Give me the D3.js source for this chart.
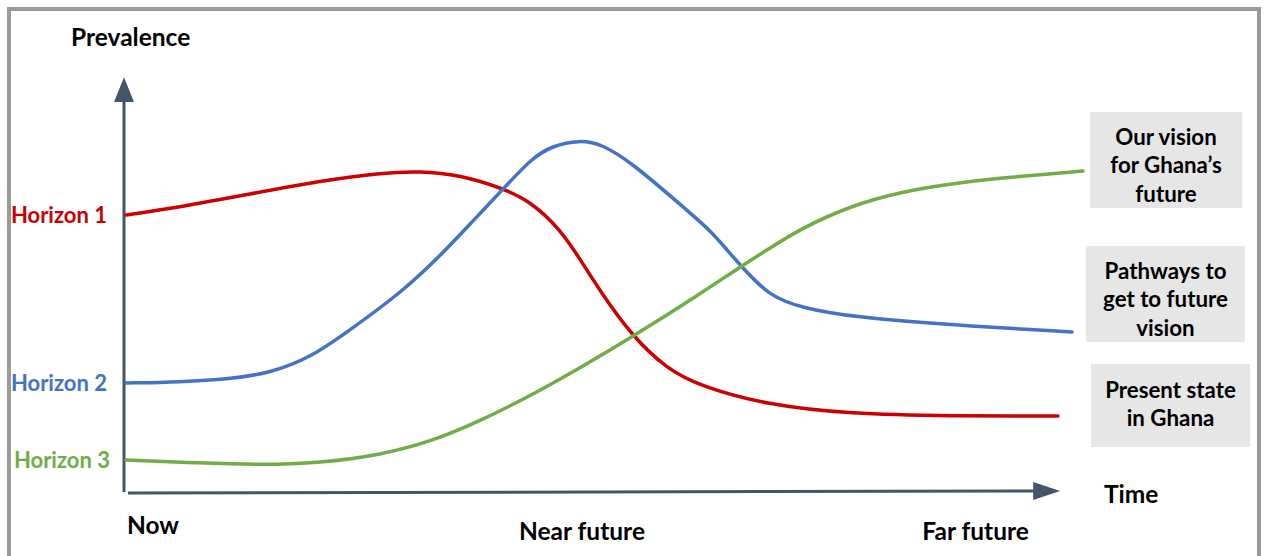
<!DOCTYPE html>
<html>
<head>
<meta charset="utf-8">
<script src="https://cdn.jsdelivr.net/npm/d3@7"></script>
<style>
  html, body { margin: 0; padding: 0; background: #fff; }
  svg { display: block; }
  text { font-family: Lato, "Open Sans", sans-serif; font-weight: 700; }
</style>
</head>
<body>
<svg id="chart" width="1265" height="556"></svg>
<script>
// Time runs 0 (now) to 100 (far future); prevalence is on a 0-100 scale.
const horizon1 = [
  [0, 69.25], [5.63, 71.25], [12.92, 74.5], [20.21, 77.75], [26.46, 79.75],
  [30.63, 80.25], [34.79, 79.25], [39.17, 76], [42.08, 72.75], [45.21, 65.75],
  [47.29, 58.25], [49.38, 50.25], [52.71, 39], [56.35, 30.75], [59.79, 26.5],
  [66.77, 21.75], [75.42, 19.5], [85.83, 19], [97.08, 19]
];
const horizon2 = [
  [0, 27.25], [5.63, 27.5], [10.83, 28.25], [15, 29.75], [19.17, 33.5],
  [23.33, 40.5], [28.75, 50], [32.92, 59.5], [36.04, 67.5], [39.38, 76],
  [42.29, 83.5], [44.38, 86.5], [47.19, 88], [49.58, 87], [52.71, 82.25],
  [57.92, 71.5], [61.04, 65], [62.6, 60.5], [64.17, 56.25], [66.98, 49],
  [70.42, 46], [75.63, 43.75], [86.04, 41.75], [98.54, 40]
];
const horizon3 = [
  [0, 8], [7.71, 7.25], [13.96, 6.75], [20.21, 7.25], [26.46, 9.25],
  [31.67, 12.5], [36.88, 17.75], [42.08, 24], [47.29, 31], [52.71, 38.75],
  [59.79, 49.5], [63.96, 56.25], [66.77, 60.5], [70.21, 65.75], [75.42, 71.5],
  [80.63, 75], [85.83, 77], [91.04, 78.5], [99.69, 80.25]
];
const seriesNames = ["Horizon 1", "Horizon 2", "Horizon 3"];
const seriesColors = ["#cc0000", "#4472c4", "#70ad47"];
const timeTicks = [
  { label: "Now", t: 0 },
  { label: "Near future", t: 47.5 },
  { label: "Far future", t: 88.5 }
];
const boxLabels = [
  ["Our vision", "for Ghana\u2019s", "future"],
  ["Pathways to", "get to future", "vision"],
  ["Present state", "in Ghana"]
];

const svg = d3.select("#chart");
const x = d3.scaleLinear().domain([0, 100]).range([126, 1086]);
const y = d3.scaleLinear().domain([0, 100]).range([492, 92]);
const axisColor = "#44546a";

// outer frame
svg.append("rect")
  .attr("x", 9).attr("y", 9).attr("width", 1250).attr("height", 600)
  .attr("fill", "none").attr("stroke", "#9a9a9a").attr("stroke-width", 4);

// axes with arrow heads
const ax0 = x(0) - 2;
svg.append("line")
  .attr("x1", ax0).attr("y1", y(0)).attr("x2", ax0).attr("y2", y(97.5))
  .attr("stroke", axisColor).attr("stroke-width", 3);
svg.append("path")
  .attr("d", `M${ax0},${y(103.7)} L${ax0 - 10},${y(97.5)} L${ax0 + 10},${y(97.5)} Z`)
  .attr("fill", axisColor);
svg.append("line")
  .attr("x1", x(0.2)).attr("y1", y(-0.25)).attr("x2", x(94.8)).attr("y2", y(0.25))
  .attr("stroke", axisColor).attr("stroke-width", 3);
svg.append("path")
  .attr("d", `M${x(97.3)},${y(0.25)} L${x(94.5)},${y(0.25) - 9} L${x(94.5)},${y(0.25) + 9} Z`)
  .attr("fill", axisColor);

// series curves
const line = d3.line()
  .x(d => x(d[0])).y(d => y(d[1]))
  .curve(d3.curveBasis);
[horizon1, horizon2, horizon3].forEach((s, i) => {
  svg.append("path")
    .datum(s)
    .attr("d", line)
    .attr("fill", "none")
    .attr("stroke", seriesColors[i])
    .attr("stroke-width", 3.5)
    .attr("stroke-linecap", "round");
});

// axis titles
svg.append("text").attr("x", 71).attr("y", 46)
  .attr("font-size", 24.5).attr("fill", "#000").text("Prevalence");
svg.append("text").attr("x", 1104).attr("y", 503)
  .attr("font-size", 24.5).attr("fill", "#000").text("Time");

// horizon labels at each series' starting level
[horizon1, horizon2, horizon3].forEach((s, i) => {
  svg.append("text")
    .attr("x", i === 2 ? 110 : 107).attr("y", y(s[0][1]) + 8)
    .attr("text-anchor", "end")
    .attr("font-size", 22).attr("fill", seriesColors[i])
    .text(seriesNames[i]);
});

// time labels
svg.selectAll("text.tick")
  .data(timeTicks).enter().append("text")
  .attr("class", "tick")
  .attr("x", d => d.t === 0 ? x(d.t) + 1 : x(d.t))
  .attr("y", (d, i) => i === 0 ? 534 : 540)
  .attr("text-anchor", d => d.t === 0 ? "start" : "middle")
  .attr("font-size", 24.5).attr("fill", "#000")
  .text(d => d.label);

// boxed annotations
const boxes = [
  { x: 1090, y: 112, w: 152, h: 96, cy: 137 },
  { x: 1086, y: 246, w: 159, h: 96, cy: 271 },
  { x: 1091, y: 364, w: 159, h: 83, cy: 390 }
];
boxes.forEach((b, i) => {
  svg.append("rect")
    .attr("x", b.x).attr("y", b.y).attr("width", b.w).attr("height", b.h)
    .attr("fill", "#e6e6e6");
  boxLabels[i].forEach((ln, j) => {
    svg.append("text")
      .attr("x", b.x + b.w / 2).attr("y", b.cy + j * 28.8 + 7.5)
      .attr("text-anchor", "middle")
      .attr("font-size", 22.3).attr("fill", "#000")
      .text(ln);
  });
});
</script>
</body>
</html>
